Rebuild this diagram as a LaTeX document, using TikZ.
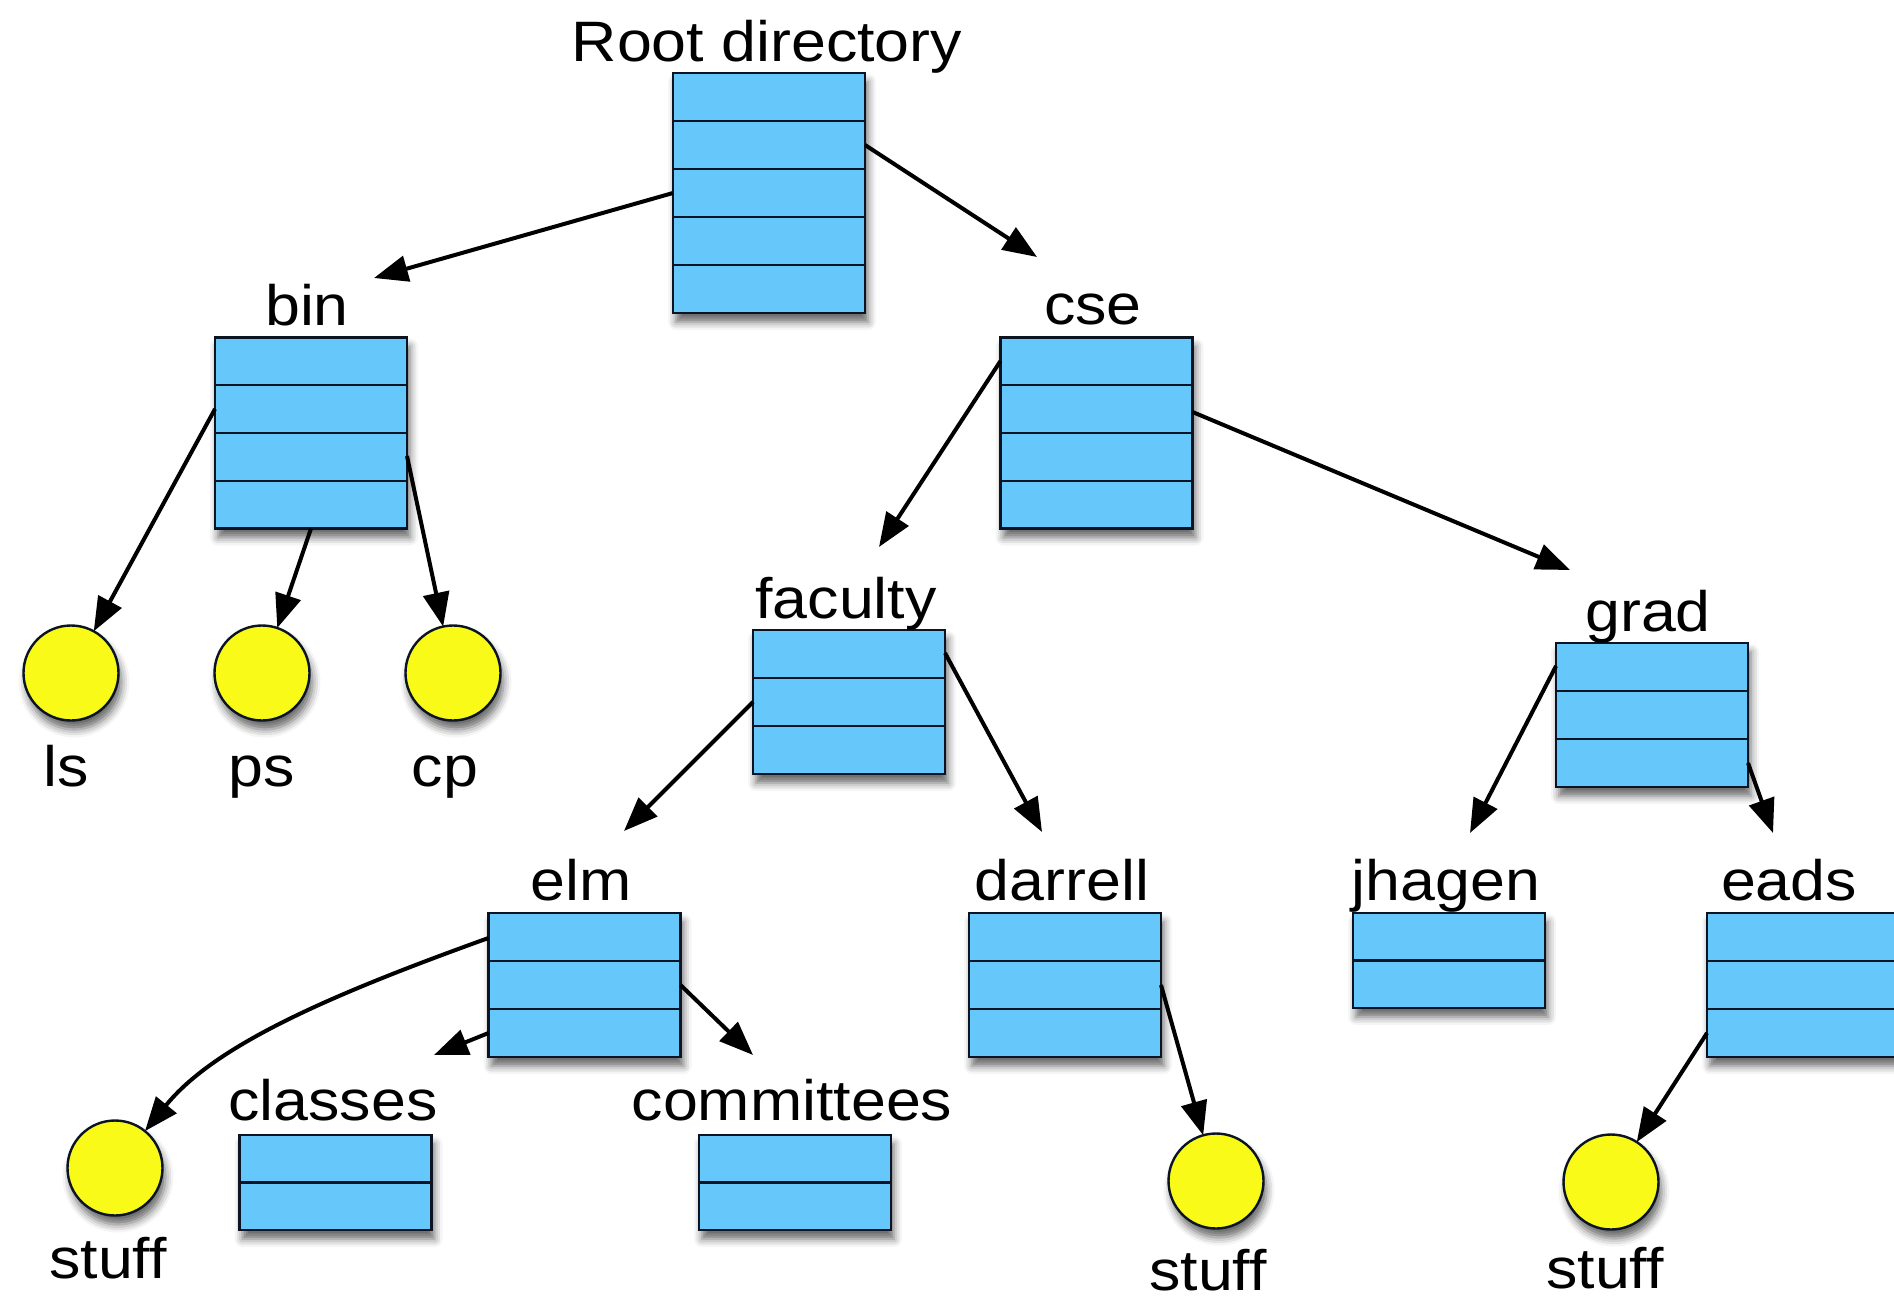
\documentclass[tikz,border=0pt]{standalone}
\usepackage{fontspec}
\setmainfont{Liberation Sans}[FakeStretch=1.1]
\usetikzlibrary{calc,arrows.meta,shadows.blur}
\definecolor{boxblue}{RGB}{102,200,250}
\definecolor{fileyellow}{RGB}{250,250,25}
\definecolor{edge}{RGB}{10,20,35}
\begin{document}
\begin{tikzpicture}[x=0.5pt,y=-0.5pt,
  dirbox/.style={draw=edge, line width=1.2pt, fill=boxblue, minimum width=96pt,
    outer sep=0pt, inner sep=0pt,
    blur shadow={shadow xshift=1.5pt, shadow yshift=-4.5pt, shadow blur radius=4pt, shadow opacity=60}},
  file/.style={circle, draw=edge, line width=1.2pt, fill=fileyellow, minimum size=47.5pt,
    inner sep=0pt, outer sep=0pt,
    blur shadow={shadow xshift=1.5pt, shadow yshift=-4.5pt, shadow blur radius=4pt, shadow opacity=60}},
  lbl/.style={anchor=base, inner sep=0pt, font=\fontsize{28.5}{32}\selectfont},
  arr/.style={line width=2pt, -{Triangle[length=17pt,width=13pt]}}
]
\useasboundingbox (0,0) rectangle (1894,1300);

% directory boxes
\node[dirbox, minimum height=120pt] (root) at (769,193) {};
\node[dirbox, minimum height=95.5pt] (bin) at (311,433) {};
\node[dirbox, minimum height=95.5pt] (cse) at (1096.5,433) {};
\node[dirbox, minimum height=72pt] (faculty) at (849,702) {};
\node[dirbox, minimum height=72pt] (elm) at (584.5,985) {};
\node[dirbox, minimum height=72pt] (darrell) at (1065,985) {};
\node[dirbox, minimum height=72pt] (grad) at (1652,715) {};
\node[dirbox, minimum height=72pt] (eads) at (1803,985) {};
\node[dirbox, minimum height=47.5pt] (jhagen) at (1449,960.5) {};
\node[dirbox, minimum height=47.5pt] (classes) at (335.5,1182.5) {};
\node[dirbox, minimum height=47.5pt] (committees) at (795,1182.5) {};

% row separators
\foreach \n/\m/\r in {root/4/5, bin/3/4, cse/3/4, faculty/2/3, elm/2/3, darrell/2/3,
    grad/2/3, eads/2/3, jhagen/1/2, classes/1/2, committees/1/2}{
  \foreach \k in {1,...,\m}{
    \draw[draw=edge, line width=1.2pt] ($(\n.north west)!{\k/\r}!(\n.south west)$) -- ($(\n.north east)!{\k/\r}!(\n.south east)$);
  }
}

% files
\node[file] (ls) at (71,673) {};
\node[file] (ps) at (262,673) {};
\node[file] (cp) at (453,673) {};
\node[file] (stuffA) at (115,1168) {};
\node[file] (stuffB) at (1216,1181) {};
\node[file] (stuffC) at (1611,1182) {};

% labels
\node[lbl] (lroot) at (767,62) {Root directory};
\node[lbl] (lbin) at (307,325) {bin};
\node[lbl] (lcse) at (1093,324) {cse};
\node[lbl] (lfac) at (846,618) {faculty};
\node[lbl] (lgrad) at (1648,631) {grad};
\node[lbl] (lelm) at (581,900) {elm};
\node[lbl] (ldarrell) at (1062,900) {darrell};
\node[lbl] (ljhagen) at (1446,900) {jhagen};
\node[lbl] (leads) at (1789,900) {eads};
\node[lbl] (lclasses) at (333,1120) {classes};
\node[lbl] (lcomm) at (792,1120) {committees};
\node[lbl] (lls) at (66,786) {ls};
\node[lbl] (lps) at (262,786) {ps};
\node[lbl] (lcp) at (445,786) {cp};
\node[lbl] (lsA) at (108,1278) {stuff};
\node[lbl] (lsB) at (1208,1290) {stuff};
\node[lbl] (lsC) at (1605,1288) {stuff};

% arrow targets
\coordinate (binin) at (374,278);
\coordinate (csein) at (1037,257);
\coordinate (facin) at (879,547);
\coordinate (gradin) at (1570,570);
\coordinate (darrin) at (1042,832);
\coordinate (elmin) at (624,831);
\coordinate (classin) at (434,1055);
\coordinate (commin) at (753,1055);
\coordinate (jhagin) at (1470,833);
\coordinate (eadsin) at (1773,833);

% connectors
\draw[arr] (root.west) -- (binin);
\draw[arr] ($(root.east)+(0,-48)$) -- (csein);
\draw[arr] ($(bin.west)+(0,-24)$) -- (ls);
\draw[arr] (bin.south) -- (ps);
\draw[arr] ($(bin.east)+(0,23)$) -- (cp);
\draw[arr] ($(cse.west)+(0,-72)$) -- (facin);
\draw[arr] ($(cse.east)+(0,-21)$) -- (gradin);
\draw[arr] ($(faculty.east)+(0,-49)$) -- (darrin);
\draw[arr] (faculty.west) -- (elmin);
\draw[arr] (darrell.east) -- (stuffB);
\draw[arr] ($(elm.west)+(0,-47)$) .. controls (330,995) and (215,1045) .. (stuffA);
\draw[arr] ($(elm.west)+(0,48)$) -- (classin);
\draw[arr] (elm.east) -- (commin);
\draw[arr] ($(grad.west)+(0,-49)$) -- (jhagin);
\draw[arr] ($(grad.east)+(0,48)$) -- (eadsin);
\draw[arr] ($(eads.west)+(0,48)$) -- (stuffC);
\end{tikzpicture}
\end{document}
